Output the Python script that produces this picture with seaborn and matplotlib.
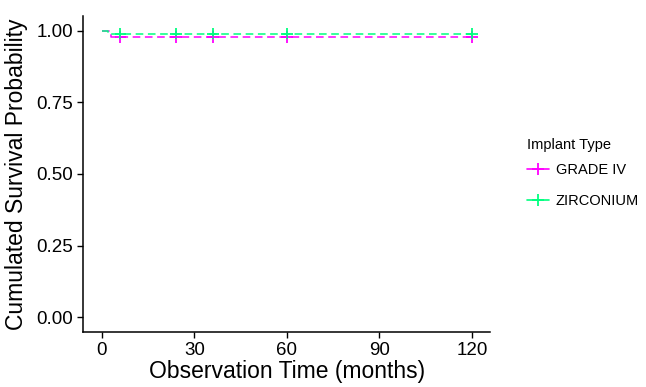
import matplotlib
matplotlib.use("Agg")
import matplotlib.pyplot as plt
from matplotlib.lines import Line2D
import numpy as np
import pandas as pd
import seaborn as sns

# Kaplan-Meier step curves
groups = ["GRADE IV", "ZIRCONIUM"]
grade_time = [0, 3, 120]
grade_surv = [1.0, 0.978, 0.978]
zirc_time = [0, 2, 120]
zirc_surv = [1.0, 0.990, 0.990]

# censoring marks
censor_time = [6, 24, 36, 60, 120]
grade_censor_surv = [0.978, 0.978, 0.978, 0.978, 0.978]
zirc_censor_surv = [0.990, 0.990, 0.990, 0.990, 0.990]

colors = {"GRADE IV": "#FF00FF", "ZIRCONIUM": "#00FF7F"}

x_ticks = [0, 30, 60, 90, 120]
y_ticks = [0.0, 0.25, 0.5, 0.75, 1.0]
y_ticklabels = ["0.00", "0.25", "0.50", "0.75", "1.00"]

curves = pd.DataFrame({
    "time": grade_time + zirc_time,
    "surv": grade_surv + zirc_surv,
    "group": ["GRADE IV"] * len(grade_time) + ["ZIRCONIUM"] * len(zirc_time),
})
censors = pd.DataFrame({
    "time": censor_time + censor_time,
    "surv": grade_censor_surv + zirc_censor_surv,
    "group": ["GRADE IV"] * len(censor_time) + ["ZIRCONIUM"] * len(censor_time),
})

sns.set_style("ticks")
plt.rcParams["font.family"] = ["Liberation Sans", "DejaVu Sans"]

fig = plt.figure(figsize=(6.46, 3.87), dpi=100)
ax = fig.add_axes([0.129, 0.1434, 0.63, 0.8142])

sns.lineplot(data=curves, x="time", y="surv", hue="group", palette=colors,
             drawstyle="steps-post", linestyle=(0, (5, 3)), linewidth=1.1,
             estimator=None, legend=False, ax=ax)
sns.scatterplot(data=censors, x="time", y="surv", hue="group", palette=colors,
                marker="+", s=70, linewidth=1.3, legend=False, ax=ax)

ax.set_xlim(-6, 126)
ax.set_ylim(-0.05, 1.05)
ax.set_xticks(x_ticks)
ax.set_yticks(y_ticks)
ax.set_yticklabels(y_ticklabels)
ax.tick_params(axis="both", labelsize=13.5, length=4, width=1, colors="black", labelcolor="black")
ax.set_xlabel("Observation Time (months)", fontsize=16.5, labelpad=1, color="black")
ax.set_ylabel("Cumulated Survival Probability", fontsize=16.5, labelpad=6, color="black")
sns.despine(ax=ax)
for s in ["left", "bottom"]:
    ax.spines[s].set_linewidth(1.1)
    ax.spines[s].set_color("black")

handles = [Line2D([], [], color=colors[g], marker="+", markersize=8, linewidth=1.2,
                  markeredgewidth=1.3) for g in groups]
leg = fig.legend(handles, groups, title="Implant Type", loc="upper left",
                 bbox_to_anchor=(0.795, 0.677), frameon=False, fontsize=10.5,
                 title_fontsize=10.5, handlelength=1.5, labelspacing=1.15,
                 handletextpad=0.5)
leg._legend_box.align = "left"
leg._legend_box.sep = 8
for t in leg.get_texts():
    t.set_color("black")
leg.get_title().set_color("black")

fig.savefig("out.png", dpi=100)
